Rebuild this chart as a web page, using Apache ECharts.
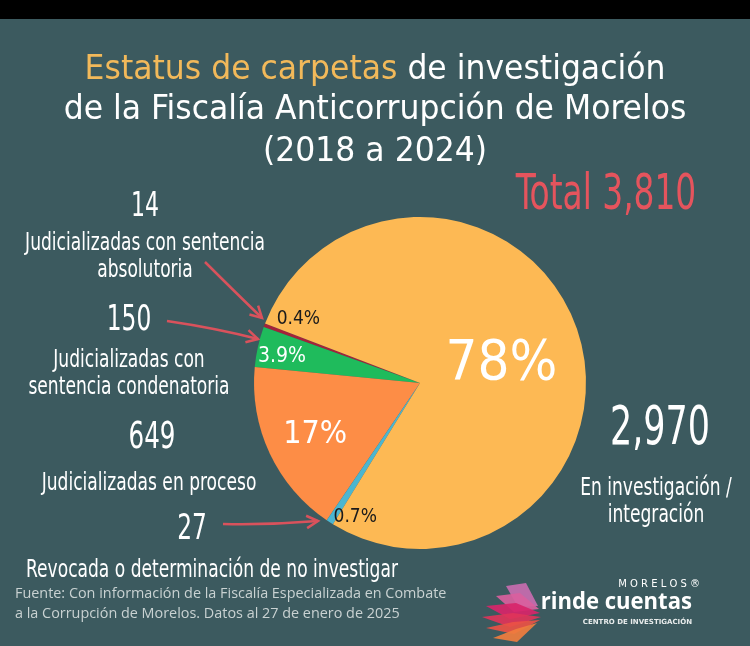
<!DOCTYPE html>
<html>
<head>
<meta charset="utf-8">
<script src="https://cdn.jsdelivr.net/npm/echarts@6/dist/echarts.min.js"></script>
<style>
  html, body { margin: 0; padding: 0; background: #3c5a5f; }
  #chart { width: 750px; height: 646px; }
</style>
</head>
<body>
<div id="chart"></div>
<script>
// datos: carpetas de investigacion por estatus (2018 a 2024)
var categories = [
  'Judicializadas con sentencia\nabsolutoria',
  'Judicializadas con\nsentencia condenatoria',
  'Judicializadas en proceso',
  'Revocada o determinación de no investigar',
  'En investigación /\nintegración'
];
var values = [14, 150, 649, 27, 2970];
var pctLabels = ['0.4%', '3.9%', '17%', '0.7%', '78%'];
var colors = ['#a3233a', '#1fbb5c', '#fd8d46', '#4cb6d0', '#fdb954'];

var FONT = "'Liberation Sans Narrow', 'DejaVu Sans Condensed', sans-serif";
var total = values.reduce(function (a, b) { return a + b; }, 0);
function fmt(n) { return n.toLocaleString('en-US'); }

// ajuste de etiquetas dentro del pastel
var pieLabel = [
  { color: '#1b1b1b', size: 19, offset: [-41, -34] },
  { color: '#ffffff', size: 21, offset: [-54, -8] },
  { color: '#ffffff', size: 32, offset: [-27, 15] },
  { color: '#1b1b1b', size: 19, offset: [-18, 62] },
  { color: '#ffffff', size: 56, offset: [0, 9] }
];

var pieData = values.map(function (v, i) {
  return {
    name: categories[i],
    value: v,
    itemStyle: { color: colors[i] },
    label: {
      formatter: pctLabels[i],
      color: pieLabel[i].color,
      fontSize: pieLabel[i].size,
      offset: pieLabel[i].offset
    }
  };
});

// el tipo de letra disponible es ancho, se comprime en horizontal
function txt(x, y, text, size, fill, sx, extra) {
  var style = { text: text, fill: fill, font: size + 'px ' + FONT, textAlign: 'center', textVerticalAlign: 'middle' };
  for (var k in extra) style[k] = extra[k];
  return { type: 'text', x: x, y: y, scaleX: sx, style: style };
}

// textos al lado del pastel
var side = [
  { x: 145, y: 207, tx: 145, ty: 257, size: 34 },
  { x: 129, y: 321, tx: 129, ty: 374, size: 36 },
  { x: 152, y: 438, tx: 149, ty: 483, size: 38 },
  { x: 192, y: 530, tx: 212, ty: 570, size: 36 },
  { x: 660, y: 430, tx: 656, ty: 502, size: 54 }
];
var sideText = [];
side.forEach(function (s, i) {
  sideText.push(txt(s.x, s.y, fmt(values[i]), s.size, '#ffffff', 0.72));
  sideText.push(txt(s.tx, s.ty, categories[i], 25, '#ffffff', 0.76, { lineHeight: 27 }));
});

function arrow(x1, y1, cx, cy, x2, y2) {
  var ang = Math.atan2(y2 - cy, x2 - cx);
  var L = 13, w = 0.5;
  return [
    { type: 'bezierCurve', shape: { x1: x1, y1: y1, x2: x2, y2: y2, cpx1: cx, cpy1: cy },
      style: { stroke: '#d9525c', lineWidth: 2.5, fill: null } },
    { type: 'polyline', shape: { points: [
        [x2 - L * Math.cos(ang - w), y2 - L * Math.sin(ang - w)],
        [x2, y2],
        [x2 - L * Math.cos(ang + w), y2 - L * Math.sin(ang + w)] ] },
      style: { stroke: '#d9525c', lineWidth: 2.5, fill: null } }
  ];
}

var logoLeaves = [
  ['#c86cb0', [[506, 586], [526, 583], [538, 606], [518, 607]]],
  ['#d9609e', [[496, 596], [520, 593], [539, 609], [514, 612]]],
  ['#d8256a', [[486, 606], [516, 603], [540, 613], [510, 619]]],
  ['#e0345a', [[482, 617], [513, 613], [541, 617], [510, 627]]],
  ['#ea5145', [[486, 628], [513, 622], [540, 620], [514, 634]]],
  ['#f07d3e', [[493, 638], [516, 629], [537, 623], [517, 642]]]
];
var logo = logoLeaves.map(function (l) {
  return { type: 'polygon', shape: { points: l[1] }, style: { fill: l[0], opacity: 0.92 } };
});
logo.push(
  { type: 'text', x: 700, y: 584, style: { text: 'M O R E L O S ®', fill: '#ffffff', font: '10px "DejaVu Sans"', textAlign: 'right', textVerticalAlign: 'middle' } },
  { type: 'text', x: 692, y: 602, scaleX: 0.92, style: { text: 'rinde cuentas', fill: '#ffffff', font: 'bold 24px "Open Sans"', textAlign: 'right', textVerticalAlign: 'middle' } },
  { type: 'text', x: 692, y: 622, style: { text: 'CENTRO DE INVESTIGACIÓN', fill: '#e8ecec', font: 'bold 7px "DejaVu Sans"', textAlign: 'right', textVerticalAlign: 'middle' } }
);

var graphics = [
  { type: 'rect', shape: { x: 0, y: 0, width: 750, height: 19 }, style: { fill: '#000000' } },
  txt(375, 70, '{y|Estatus de carpetas} de investigación', 33, '#ffffff', 1.06,
    { rich: { y: { fill: '#f2b95a', font: '33px ' + FONT } } }),
  txt(375, 110, 'de la Fiscalía Anticorrupción de Morelos', 33, '#ffffff', 1.06),
  txt(375, 152, '(2018 a 2024)', 33, '#ffffff', 1.06),
  txt(606, 196, 'Total ' + fmt(total), 50, '#e5545d', 0.73),
  { type: 'text', x: 15, y: 604,
    style: { text: 'Fuente: Con información de la Fiscalía Especializada en Combate\na la Corrupción de Morelos. Datos al 27 de enero de 2025',
      fill: '#c9d2d2', font: '14.4px "Open Sans"', textAlign: 'left', textVerticalAlign: 'middle', lineHeight: 20 } }
].concat(sideText)
 .concat(arrow(205, 262, 235, 292, 262, 318))
 .concat(arrow(167, 321, 215, 328, 258, 339))
 .concat(arrow(223, 524, 270, 525, 318, 521))
 .concat(logo);

var chart = echarts.init(document.getElementById('chart'));
chart.setOption({
  backgroundColor: '#3c5a5f',
  animation: false,
  series: [{
    type: 'pie',
    center: [420, 383],
    radius: [0, 166],
    startAngle: 159,
    clockwise: false,
    label: { show: true, position: 'inside', fontFamily: FONT },
    labelLine: { show: false },
    emphasis: { disabled: true },
    data: pieData
  }],
  graphic: graphics
});
</script>
</body>
</html>
